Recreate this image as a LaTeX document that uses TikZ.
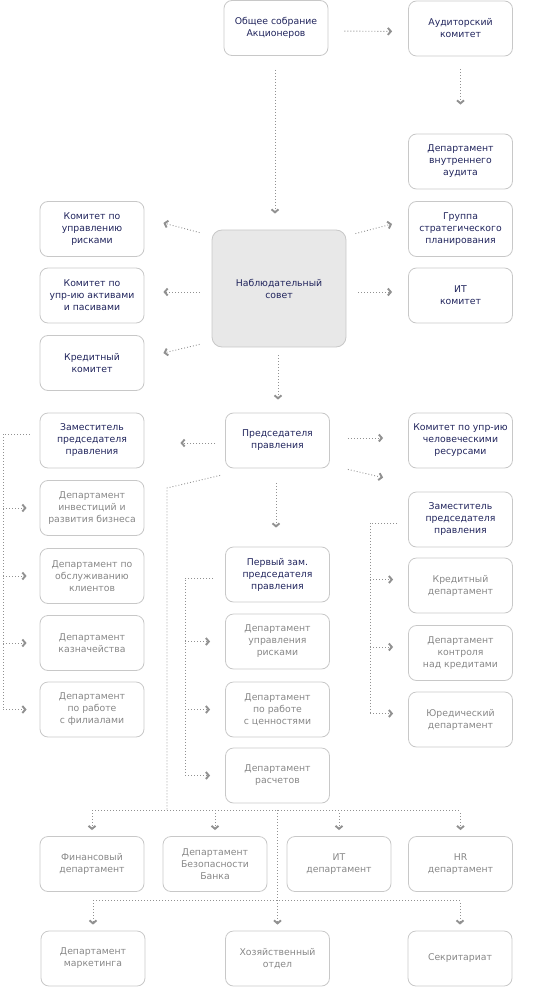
\documentclass[tikz,border=0pt]{standalone}
\usepackage{fontspec}
\setmainfont{DejaVu Sans}
\usetikzlibrary{arrows.meta}
\definecolor{navy}{RGB}{32,36,92}
\definecolor{greytext}{RGB}{135,135,135}
\definecolor{frame}{RGB}{200,200,200}
\definecolor{dots}{RGB}{145,145,145}
\definecolor{council}{RGB}{232,232,232}
\tikzset{
  box/.style={draw=frame, line width=0.8pt, rounded corners=8pt, minimum width=104pt,
    minimum height=55pt, align=center, inner sep=2pt, font=\fontsize{9.3}{12}\selectfont},
  head/.style={box, text=navy},
  dept/.style={box, text=greytext},
  dotline/.style={draw=dots, line width=0.9pt, dash pattern=on 0.9pt off 2.1pt},
  arr/.style={dotline, -{Straight Barb[length=3pt,width=7pt,line width=1.9pt]}}
}

\begin{document}
\begin{tikzpicture}[x=1pt,y=-1pt]
\useasboundingbox (0,0) rectangle (535,1000);

% top
\node[head] (gsa) at (276,28) {Общее собрание\\Акционеров};
\node[head] (aud) at (460.5,28.5) {Аудиторский\\комитет};
\node[head] (vaud) at (460.5,161.5) {Департамент\\внутреннего\\аудита};

% council and committees
\node[head, fill=council, minimum width=134pt, minimum height=117pt, rounded corners=10pt] (nab) at (279,288.5) {Наблюдательный\\совет};
\node[head] (rsk) at (92,229) {Комитет по\\управлению\\рисками};
\node[head] (alm) at (92,295.5) {Комитет по\\упр-ию активами\\и пасивами};
\node[head] (krk) at (92,363) {Кредитный\\комитет};
\node[head] (grp) at (460.5,229) {Группа\\стратегического\\планирования};
\node[head] (itk) at (460.5,295.5) {ИТ\\комитет};

% board
\node[head] (zam1) at (92,440.5) {Заместитель\\председателя\\правления};
\node[head] (pred) at (277.5,440.5) {Председателя\\правления};
\node[head] (hrk) at (460.5,440.5) {Комитет по упр-ию\\человеческими\\ресурсами};
\node[head] (zam2) at (460.5,519.5) {Заместитель\\председателя\\правления};
\node[head] (perv) at (277.5,574.5) {Первый зам.\\председателя\\правления};

% departments
\node[dept] (inv) at (92,508) {Департамент\\инвестиций и\\развития бизнеса};
\node[dept] (cli) at (92,576) {Департамент по\\обслуживанию\\клиентов};
\node[dept] (kaz) at (92,643) {Департамент\\казначейства};
\node[dept] (fil) at (92,709.5) {Департамент\\по работе\\с филиалами};
\node[dept] (urisk) at (277.5,641.5) {Департамент\\управления\\рисками};
\node[dept] (cen) at (277.5,709.5) {Департамент\\по работе\\с ценностями};
\node[dept] (rasch) at (277.5,775.5) {Департамент\\расчетов};
\node[dept] (kred) at (460.5,585.5) {Кредитный\\департамент};
\node[dept] (kontr) at (460.5,653) {Департамент\\контроля\\над кредитами};
\node[dept] (yur) at (460.5,719.5) {Юредический\\департамент};

\node[dept] (fin) at (92,864) {Финансовый\\департамент};
\node[dept] (bez) at (215,864) {Департамент\\Безопасности\\Банка};
\node[dept] (itd) at (339,864) {ИТ\\департамент};
\node[dept] (hrd) at (460.5,864) {HR\\департамент};
\node[dept] (mark) at (93,958.5) {Департамент\\маркетинга};
\node[dept] (hoz) at (277.5,958.5) {Хозяйственный\\отдел};
\node[dept] (sek) at (460,958.5) {Секритариат};

% arrows
\draw[arr, shorten <=16pt, shorten >=16pt] ([yshift=-3pt]gsa.east) -- ([yshift=-3pt]aud.west);
\draw[arr, shorten <=13pt, shorten >=29pt] (aud.south) -- (vaud.north);
\draw[arr, shorten <=14pt, shorten >=16pt] ([xshift=-1pt]gsa.south) -- ([xshift=-1pt]gsa.south |- nab.north);

\draw[arr] ([shift={(-12,3)}]nab.north west) -- ([shift={(19,-6)}]rsk.east);
\draw[arr] ([shift={(-12,3.5)}]nab.west) -- ([shift={(19,-3.5)}]alm.east);
\draw[arr] ([shift={(-12,-3)}]nab.south west) -- ([shift={(19,-10)}]krk.east);
\draw[arr] ([shift={(9,4)}]nab.north east) -- ([shift={(-16,-5)}]grp.west);
\draw[arr] ([shift={(12,3.5)}]nab.east) -- ([shift={(-16,-3.5)}]itk.west);
\draw[arr, shorten <=8pt, shorten >=13pt] ([xshift=-1pt]nab.south) -- ([xshift=-1pt]nab.south |- pred.north);

\draw[arr, shorten <=10pt, shorten >=36pt] ([yshift=-2.5pt]pred.west) -- ([yshift=-2.5pt]zam1.east);
\draw[arr, shorten <=18pt, shorten >=25pt] ([yshift=2.5pt]pred.east) -- ([yshift=2.5pt]hrk.west);
\draw[arr] ([shift={(18,1)}]pred.south east) -- ([shift={(-25,-14)}]zam2.north west);
\draw[arr, shorten <=15pt, shorten >=19pt] ([xshift=-1.5pt]pred.south) -- ([xshift=-1.5pt]pred.south |- perv.north);

% left branch
\coordinate (lbus) at (3,434);
\draw[dotline] ([shift={(-10,-6.5)}]zam1.west) -- (lbus) -- (lbus |- fil.west);
\foreach \n in {inv,cli,kaz,fil}
  \draw[arr, shorten >=13pt] (lbus |- \n.west) -- (\n.west);

% middle branch
\coordinate (mbus) at (185,578);
\draw[dotline] ([shift={(-12,3.5)}]perv.west) -- (mbus) -- (mbus |- rasch.west);
\foreach \n in {urisk,cen,rasch}
  \draw[arr, shorten >=15pt] (mbus |- \n.west) -- (\n.west);

% right branch
\coordinate (rbus) at (370,523);
\coordinate (rlast) at ([yshift=5pt]yur.west);
\draw[dotline] ([shift={(-11,3.5)}]zam2.west) -- (rbus) -- (rbus |- rlast);
\foreach \n in {kred,kontr,yur}{
  \coordinate (tip) at ([yshift=6pt]\n.west);
  \draw[arr, shorten >=15pt] (rbus |- tip) -- (tip);
}

% bottom rows
\coordinate (bend) at (167,488);
\coordinate (bus) at (167,810);
\coordinate (bus2) at (278,900);
\draw[dotline] ([shift={(-5,7)}]pred.south west) -- (bend) -- (bus);
\draw[dotline] (fin.north |- bus) -- (hrd.north |- bus);
\foreach \n in {fin,bez,itd,hrd}
  \draw[arr, shorten <=3pt, shorten >=6pt] (\n.north |- bus) -- (\n.north);
\draw[arr, shorten >=6pt] (hoz.north |- bus) -- (hoz.north);
\draw[dotline] (mark.north |- bus2) -- (sek.north |- bus2);
\foreach \n in {mark,sek}
  \draw[arr, shorten <=3pt, shorten >=6pt] (\n.north |- bus2) -- (\n.north);

\end{tikzpicture}
\end{document}
